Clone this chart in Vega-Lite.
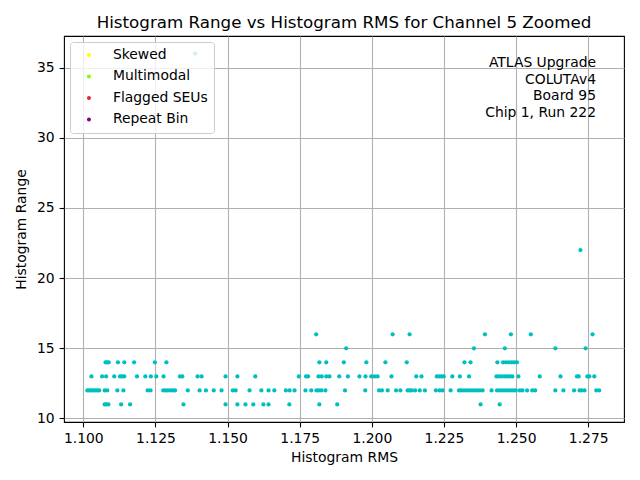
{
  "$schema": "https://vega.github.io/schema/vega-lite/v6.json",
  "width": 560,
  "height": 386,
  "autosize": {"type": "none"},
  "padding": {"left": 64, "top": 36, "right": 16, "bottom": 58},
  "background": "white",
  "title": {
    "text": "Histogram Range vs Histogram RMS for Channel 5 Zoomed",
    "font": "DejaVu Sans",
    "fontSize": 16.7,
    "fontWeight": "normal",
    "color": "black",
    "anchor": "middle",
    "baseline": "alphabetic",
    "offset": 8,
    "dy": 17
  },
  "config": {
    "view": {"stroke": "black", "strokeWidth": 1.1},
    "axis": {
      "domain": false,
      "grid": true,
      "gridColor": "#b0b0b0",
      "gridWidth": 1.1,
      "gridOpacity": 1,
      "tickColor": "black",
      "tickSize": 4.9,
      "tickWidth": 1.1,
      "labelFont": "DejaVu Sans",
      "labelFontSize": 13.9,
      "labelColor": "black",
      "labelPadding": 4.9,
      "titleFont": "DejaVu Sans",
      "titleFontSize": 13.9,
      "titleFontWeight": "normal",
      "titleColor": "black"
    },
    "legend": {
      "orient": "top-left",
      "offset": 6,
      "padding": 6,
      "fillColor": "rgba(255,255,255,0.8)",
      "strokeColor": "#cccccc",
      "cornerRadius": 3,
      "symbolType": "circle",
      "symbolSize": 16,
      "symbolStrokeWidth": 0,
      "symbolOffset": 6,
      "labelOffset": 17,
      "labelFont": "DejaVu Sans",
      "labelFontSize": 13.9,
      "labelColor": "black",
      "rowPadding": 6.5,
      "zindex": 1
    }
  },
  "layer": [
    {
      "data": {"values": [
        {"rms": 1.1387, "range": 36},
        {"rms": 1.2723, "range": 22},
        {"rms": 1.1807, "range": 16}, {"rms": 1.2072, "range": 16}, {"rms": 1.2131, "range": 16}, {"rms": 1.2392, "range": 16}, {"rms": 1.2482, "range": 16}, {"rms": 1.2551, "range": 16}, {"rms": 1.2765, "range": 16},
        {"rms": 1.1911, "range": 15}, {"rms": 1.2354, "range": 15}, {"rms": 1.2461, "range": 15}, {"rms": 1.2636, "range": 15}, {"rms": 1.2741, "range": 15},
        {"rms": 1.1077, "range": 14}, {"rms": 1.1082, "range": 14}, {"rms": 1.1088, "range": 14}, {"rms": 1.1120, "range": 14}, {"rms": 1.1142, "range": 14}, {"rms": 1.1176, "range": 14}, {"rms": 1.1248, "range": 14}, {"rms": 1.1288, "range": 14}, {"rms": 1.1818, "range": 14}, {"rms": 1.1842, "range": 14}, {"rms": 1.1903, "range": 14}, {"rms": 1.1981, "range": 14}, {"rms": 1.2047, "range": 14}, {"rms": 1.2121, "range": 14}, {"rms": 1.2321, "range": 14}, {"rms": 1.2342, "range": 14}, {"rms": 1.2435, "range": 14}, {"rms": 1.2455, "range": 14}, {"rms": 1.2465, "range": 14}, {"rms": 1.2475, "range": 14}, {"rms": 1.2485, "range": 14}, {"rms": 1.2494, "range": 14}, {"rms": 1.2503, "range": 14},
        {"rms": 1.1028, "range": 13}, {"rms": 1.1065, "range": 13}, {"rms": 1.1079, "range": 13}, {"rms": 1.1107, "range": 13}, {"rms": 1.1127, "range": 13}, {"rms": 1.1134, "range": 13}, {"rms": 1.1142, "range": 13}, {"rms": 1.1186, "range": 13}, {"rms": 1.1215, "range": 13}, {"rms": 1.1234, "range": 13}, {"rms": 1.1253, "range": 13}, {"rms": 1.1278, "range": 13}, {"rms": 1.1335, "range": 13}, {"rms": 1.1343, "range": 13}, {"rms": 1.1396, "range": 13}, {"rms": 1.1410, "range": 13}, {"rms": 1.1493, "range": 13}, {"rms": 1.1534, "range": 13}, {"rms": 1.1596, "range": 13}, {"rms": 1.1747, "range": 13}, {"rms": 1.1772, "range": 13}, {"rms": 1.1779, "range": 13}, {"rms": 1.1815, "range": 13}, {"rms": 1.1826, "range": 13}, {"rms": 1.1842, "range": 13}, {"rms": 1.1853, "range": 13}, {"rms": 1.1887, "range": 13}, {"rms": 1.1917, "range": 13}, {"rms": 1.1957, "range": 13}, {"rms": 1.1978, "range": 13}, {"rms": 1.1998, "range": 13}, {"rms": 1.2010, "range": 13}, {"rms": 1.2020, "range": 13}, {"rms": 1.2068, "range": 13}, {"rms": 1.2154, "range": 13}, {"rms": 1.2172, "range": 13}, {"rms": 1.2225, "range": 13}, {"rms": 1.2233, "range": 13}, {"rms": 1.2241, "range": 13}, {"rms": 1.2249, "range": 13}, {"rms": 1.2279, "range": 13}, {"rms": 1.2305, "range": 13}, {"rms": 1.2337, "range": 13}, {"rms": 1.2432, "range": 13}, {"rms": 1.2441, "range": 13}, {"rms": 1.2450, "range": 13}, {"rms": 1.2460, "range": 13}, {"rms": 1.2469, "range": 13}, {"rms": 1.2478, "range": 13}, {"rms": 1.2487, "range": 13}, {"rms": 1.2508, "range": 13}, {"rms": 1.2582, "range": 13}, {"rms": 1.2654, "range": 13}, {"rms": 1.2711, "range": 13}, {"rms": 1.2717, "range": 13}, {"rms": 1.2747, "range": 13}, {"rms": 1.2754, "range": 13}, {"rms": 1.2771, "range": 13},
        {"rms": 1.1014, "range": 12}, {"rms": 1.1021, "range": 12}, {"rms": 1.1028, "range": 12}, {"rms": 1.1035, "range": 12}, {"rms": 1.1041, "range": 12}, {"rms": 1.1048, "range": 12}, {"rms": 1.1055, "range": 12}, {"rms": 1.1074, "range": 12}, {"rms": 1.1083, "range": 12}, {"rms": 1.1118, "range": 12}, {"rms": 1.1139, "range": 12}, {"rms": 1.1223, "range": 12}, {"rms": 1.1233, "range": 12}, {"rms": 1.1277, "range": 12}, {"rms": 1.1285, "range": 12}, {"rms": 1.1293, "range": 12}, {"rms": 1.1303, "range": 12}, {"rms": 1.1311, "range": 12}, {"rms": 1.1318, "range": 12}, {"rms": 1.1362, "range": 12}, {"rms": 1.1403, "range": 12}, {"rms": 1.1425, "range": 12}, {"rms": 1.1452, "range": 12}, {"rms": 1.1479, "range": 12}, {"rms": 1.1518, "range": 12}, {"rms": 1.1528, "range": 12}, {"rms": 1.1576, "range": 12}, {"rms": 1.1617, "range": 12}, {"rms": 1.1642, "range": 12}, {"rms": 1.1662, "range": 12}, {"rms": 1.1702, "range": 12}, {"rms": 1.1715, "range": 12}, {"rms": 1.1732, "range": 12}, {"rms": 1.1770, "range": 12}, {"rms": 1.1790, "range": 12}, {"rms": 1.1808, "range": 12}, {"rms": 1.1816, "range": 12}, {"rms": 1.1825, "range": 12}, {"rms": 1.1839, "range": 12}, {"rms": 1.1907, "range": 12}, {"rms": 1.1977, "range": 12}, {"rms": 1.2025, "range": 12}, {"rms": 1.2035, "range": 12}, {"rms": 1.2055, "range": 12}, {"rms": 1.2084, "range": 12}, {"rms": 1.2099, "range": 12}, {"rms": 1.2124, "range": 12}, {"rms": 1.2131, "range": 12}, {"rms": 1.2138, "range": 12}, {"rms": 1.2150, "range": 12}, {"rms": 1.2166, "range": 12}, {"rms": 1.2184, "range": 12}, {"rms": 1.2222, "range": 12}, {"rms": 1.2235, "range": 12}, {"rms": 1.2245, "range": 12}, {"rms": 1.2273, "range": 12}, {"rms": 1.2302, "range": 12}, {"rms": 1.2310, "range": 12}, {"rms": 1.2319, "range": 12}, {"rms": 1.2328, "range": 12}, {"rms": 1.2338, "range": 12}, {"rms": 1.2347, "range": 12}, {"rms": 1.2356, "range": 12}, {"rms": 1.2365, "range": 12}, {"rms": 1.2374, "range": 12}, {"rms": 1.2384, "range": 12}, {"rms": 1.2415, "range": 12}, {"rms": 1.2434, "range": 12}, {"rms": 1.2444, "range": 12}, {"rms": 1.2453, "range": 12}, {"rms": 1.2462, "range": 12}, {"rms": 1.2471, "range": 12}, {"rms": 1.2480, "range": 12}, {"rms": 1.2490, "range": 12}, {"rms": 1.2499, "range": 12}, {"rms": 1.2513, "range": 12}, {"rms": 1.2522, "range": 12}, {"rms": 1.2538, "range": 12}, {"rms": 1.2556, "range": 12}, {"rms": 1.2566, "range": 12}, {"rms": 1.2636, "range": 12}, {"rms": 1.2664, "range": 12}, {"rms": 1.2701, "range": 12}, {"rms": 1.2720, "range": 12}, {"rms": 1.2727, "range": 12}, {"rms": 1.2737, "range": 12}, {"rms": 1.2778, "range": 12}, {"rms": 1.2788, "range": 12},
        {"rms": 1.1074, "range": 11}, {"rms": 1.1080, "range": 11}, {"rms": 1.1087, "range": 11}, {"rms": 1.1131, "range": 11}, {"rms": 1.1162, "range": 11}, {"rms": 1.1347, "range": 11}, {"rms": 1.1493, "range": 11}, {"rms": 1.1534, "range": 11}, {"rms": 1.1562, "range": 11}, {"rms": 1.1589, "range": 11}, {"rms": 1.1624, "range": 11}, {"rms": 1.1642, "range": 11}, {"rms": 1.1714, "range": 11}, {"rms": 1.1818, "range": 11}, {"rms": 1.1880, "range": 11}, {"rms": 1.2377, "range": 11}, {"rms": 1.2443, "range": 11}
      ]},
      "mark": {"type": "circle", "size": 18, "color": "#00bfbf", "opacity": 1},
      "encoding": {
        "x": {
          "field": "rms", "type": "quantitative", "title": "Histogram RMS",
          "scale": {"domain": [1.0933, 1.2874], "nice": false, "zero": false},
          "axis": {"values": [1.1, 1.125, 1.15, 1.175, 1.2, 1.225, 1.25, 1.275], "format": ".3f", "titlePadding": 5}
        },
        "y": {
          "field": "range", "type": "quantitative", "title": "Histogram Range",
          "scale": {"domain": [9.75, 37.25], "nice": false, "zero": false},
          "axis": {"values": [10, 15, 20, 25, 30, 35], "titlePadding": 8}
        }
      }
    },
    {
      "data": {"values": [
        {"flag": "Skewed"}, {"flag": "Multimodal"}, {"flag": "Flagged SEUs"}, {"flag": "Repeat Bin"}
      ]},
      "mark": {"type": "circle", "size": 16, "opacity": 1},
      "encoding": {
        "x": {"field": "rms", "type": "quantitative"},
        "y": {"field": "range", "type": "quantitative"},
        "color": {
          "field": "flag", "type": "nominal",
          "scale": {"domain": ["Skewed", "Multimodal", "Flagged SEUs", "Repeat Bin"], "range": ["#ffff00", "#7fff00", "#e3282d", "#800080"]},
          "legend": {"title": null}
        }
      }
    },
    {
      "data": {"values": [
        {"rms": 1.2777, "range": 35.83, "note": ["ATLAS Upgrade", "COLUTAv4\u00a0", "\u00a0Board 95", "Chip 1, Run 222"]}
      ]},
      "mark": {"type": "text", "align": "right", "baseline": "top", "font": "DejaVu Sans", "fontSize": 13.9, "lineHeight": 16.7, "color": "black"},
      "encoding": {
        "x": {"field": "rms", "type": "quantitative"},
        "y": {"field": "range", "type": "quantitative"},
        "text": {"field": "note"}
      }
    }
  ]
}
